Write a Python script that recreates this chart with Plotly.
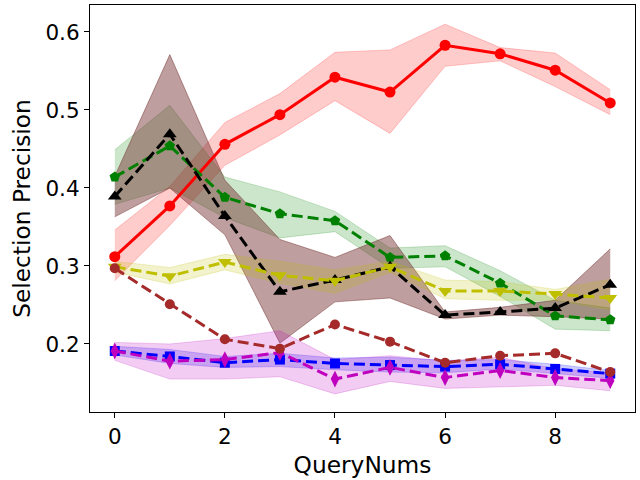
import plotly.graph_objects as go

query_nums = [0, 1, 2, 3, 4, 5, 6, 7, 8, 9]

# mean values
red_mean = [0.312, 0.377, 0.456, 0.494, 0.542, 0.523, 0.583, 0.572, 0.551, 0.509]
red_upper = [0.346, 0.402, 0.484, 0.521, 0.574, 0.577, 0.610, 0.580, 0.573, 0.526]
red_lower = [0.281, 0.352, 0.429, 0.468, 0.512, 0.470, 0.556, 0.563, 0.530, 0.494]

green_mean = [0.414, 0.454, 0.388, 0.367, 0.358, 0.311, 0.313, 0.278, 0.236, 0.231]
green_upper = [0.449, 0.506, 0.414, 0.395, 0.370, 0.323, 0.326, 0.294, 0.256, 0.246]
green_lower = [0.379, 0.400, 0.362, 0.336, 0.344, 0.297, 0.299, 0.261, 0.219, 0.217]

black_mean = [0.389, 0.469, 0.364, 0.267, 0.282, 0.299, 0.237, 0.241, 0.246, 0.276]
black_upper = [0.415, 0.571, 0.410, 0.334, 0.311, 0.339, 0.241, 0.247, 0.256, 0.322]
black_lower = [0.363, 0.400, 0.340, 0.201, 0.254, 0.259, 0.232, 0.237, 0.235, 0.232]

yellow_mean = [0.299, 0.287, 0.305, 0.288, 0.281, 0.299, 0.268, 0.268, 0.264, 0.259]
yellow_upper = [0.306, 0.298, 0.315, 0.306, 0.295, 0.306, 0.282, 0.280, 0.270, 0.283]
yellow_lower = [0.292, 0.277, 0.295, 0.278, 0.265, 0.292, 0.258, 0.256, 0.256, 0.244]

brown_mean = [0.297, 0.251, 0.206, 0.194, 0.225, 0.203, 0.176, 0.185, 0.188, 0.164]

blue_mean = [0.191, 0.184, 0.176, 0.180, 0.175, 0.173, 0.171, 0.174, 0.168, 0.162]
blue_upper = [0.197, 0.193, 0.184, 0.188, 0.182, 0.183, 0.179, 0.180, 0.174, 0.166]
blue_lower = [0.186, 0.175, 0.170, 0.171, 0.167, 0.164, 0.163, 0.168, 0.162, 0.156]

magenta_mean = [0.191, 0.178, 0.180, 0.189, 0.155, 0.170, 0.157, 0.166, 0.157, 0.153]
magenta_upper = [0.202, 0.200, 0.207, 0.217, 0.180, 0.185, 0.178, 0.183, 0.168, 0.163]
magenta_lower = [0.179, 0.155, 0.155, 0.158, 0.136, 0.152, 0.143, 0.145, 0.147, 0.140]

fig = go.Figure()

bands = [
    (red_lower, red_upper, "rgba(255,0,0,0.2)"),
    (green_lower, green_upper, "rgba(0,128,0,0.2)"),
    (black_lower, black_upper, "rgba(110,40,40,0.45)"),
    (yellow_lower, yellow_upper, "rgba(191,191,0,0.2)"),
    (blue_lower, blue_upper, "rgba(0,0,255,0.2)"),
    (magenta_lower, magenta_upper, "rgba(191,0,191,0.2)"),
]
for lo, hi, col in bands:
    fig.add_trace(go.Scatter(x=query_nums, y=lo, mode="lines",
                             line=dict(color=col, width=1), showlegend=False,
                             hoverinfo="skip"))
    fig.add_trace(go.Scatter(x=query_nums, y=hi, mode="lines", fill="tonexty",
                             fillcolor=col, line=dict(color=col, width=1),
                             showlegend=False, hoverinfo="skip"))

dash = "11px,5px"
lines = [
    (red_mean, "red", "solid", "circle", 11),
    (green_mean, "green", dash, "pentagon", 11),
    (black_mean, "black", dash, "triangle-up", 12),
    (yellow_mean, "#bfbf00", dash, "triangle-down", 12),
    (blue_mean, "blue", dash, "square", 10),
    (magenta_mean, "#bf00bf", dash, "diamond-tall", 12),
    (brown_mean, "brown", dash, "circle", 10),
]
for ys, col, d, sym, sz in lines:
    fig.add_trace(go.Scatter(x=query_nums, y=ys, mode="lines+markers",
                             line=dict(color=col, width=3, dash=d),
                             marker=dict(color=col, symbol=sym, size=sz),
                             showlegend=False))

axis_style = dict(showline=True, linecolor="black", linewidth=1.2, mirror=True,
                  ticks="outside", ticklen=5, tickwidth=1.2, tickcolor="black",
                  showgrid=False, zeroline=False,
                  tickfont=dict(family="DejaVu Sans", size=21.5, color="black"))

fig.update_xaxes(range=[-0.45, 9.45], tickvals=[0, 2, 4, 6, 8],
                 title=dict(text="QueryNums", standoff=8,
                            font=dict(family="DejaVu Sans", size=23.3, color="black")),
                 **axis_style)
fig.update_yaxes(range=[0.1128, 0.6346], tickvals=[0.2, 0.3, 0.4, 0.5, 0.6],
                 tickformat=".1f",
                 title=dict(text="Selection Precision", standoff=8,
                            font=dict(family="DejaVu Sans", size=23.3, color="black")),
                 **axis_style)

fig.update_layout(width=640, height=480, plot_bgcolor="white", paper_bgcolor="white",
                  margin=dict(l=90, r=5, t=5, b=68, autoexpand=False))

# page body margin would push the 640x480 figure out of the window
fig.write_html("out.html", config={"displayModeBar": False},
               post_script="document.body.style.margin='0';")
